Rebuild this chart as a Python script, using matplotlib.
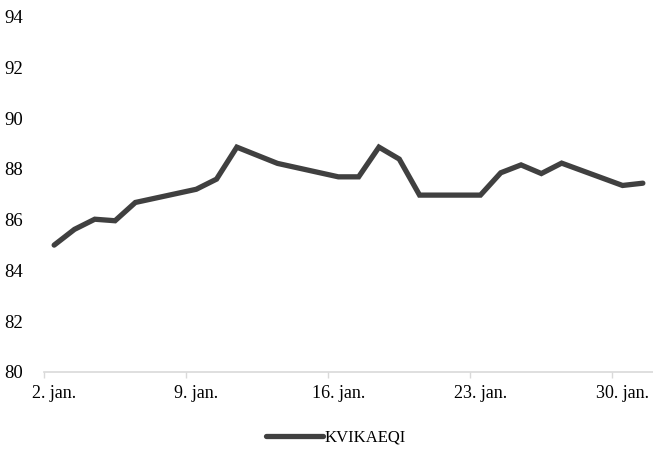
import datetime as dt
import matplotlib
matplotlib.use("Agg")
import matplotlib.pyplot as plt
import matplotlib.dates as mdates
from matplotlib.ticker import FixedLocator

plt.rcParams['font.family'] = ['Liberation Serif', 'DejaVu Serif']

# trading days in January (weekends are bridged by the line)
days = [2, 3, 4, 5, 6, 9, 10, 11, 12, 13, 16, 17, 18, 19, 20,
        23, 24, 25, 26, 27, 30, 31]
values = [85.00, 85.62, 86.02, 85.96, 86.68, 87.20, 87.60, 88.86, 88.54, 88.22,
          87.69, 87.69, 88.86, 88.39, 86.97, 86.97, 87.85, 88.16, 87.82, 88.23,
          87.35, 87.44]
series_name = "KVIKAEQI"
label_days = [2, 9, 16, 23, 30]
y_ticks = [80, 82, 84, 86, 88, 90, 92, 94]

dates = [dt.datetime(2023, 1, d) for d in days]

fig = plt.figure(figsize=(6.53, 4.5), dpi=100)
ax = fig.add_axes([44 / 653, 78 / 450, 609 / 653, 355.3 / 450])

line, = ax.plot(dates, values, color='#404040', linewidth=3.8,
                solid_joinstyle='miter', solid_capstyle='round', label=series_name)

half = dt.timedelta(hours=12)
ax.set_xlim(dt.datetime(2023, 1, 2) - half, dt.datetime(2023, 1, 31) + half)
ax.set_ylim(80, 94)

# labels at day centres, tick marks at day boundaries
label_dates = [dt.datetime(2023, 1, d) for d in label_days]
ax.xaxis.set_major_locator(FixedLocator(mdates.date2num(label_dates)))
ax.set_xticklabels([f"{d}. jan." for d in label_days])
ax.xaxis.set_minor_locator(FixedLocator(mdates.date2num([d - half for d in label_dates])))
ax.tick_params(axis='x', which='major', length=0, pad=9, labelsize=13)
ax.tick_params(axis='x', which='minor', length=4, width=1, color='#d9d9d9')

ax.set_yticks(y_ticks)
ax.tick_params(axis='y', length=0, pad=15, labelsize=13.5)

for side in ['top', 'right', 'left']:
    ax.spines[side].set_visible(False)
ax.spines['bottom'].set_color('#d9d9d9')
ax.spines['bottom'].set_linewidth(1.2)
ax.spines['bottom'].set_zorder(0)

fig.legend(handles=[line], loc='center', bbox_to_anchor=(336 / 653, 1 - 438 / 450),
           frameon=False, fontsize=12, handlelength=3.4, handletextpad=0.1)

fig.savefig('out.png', dpi=100)
